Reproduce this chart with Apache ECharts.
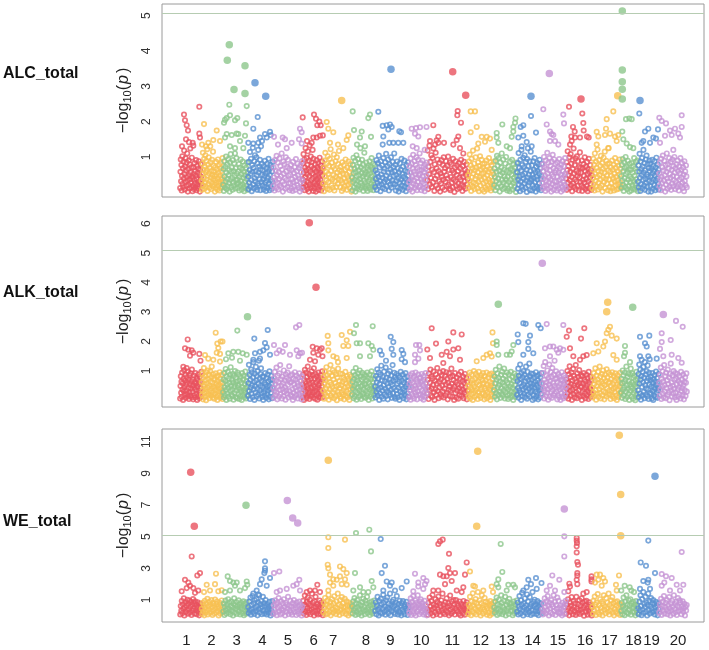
<!DOCTYPE html>
<html><head><meta charset="utf-8">
<script src="https://cdn.jsdelivr.net/npm/echarts@6/dist/echarts.min.js"></script>
<style>html,body{margin:0;padding:0;background:#fff}#c{width:709px;height:650px}</style>
</head><body><div id="c"></div>
<script>
// ---- axis / layout data ----
const chromNames = ['1','2','3','4','5','6','7','8','9','10','11','12','13','14','15','16','17','18','19','20'];
const chromStart = [18,39.5,61,86,111,140.5,161,190,213,247,265,306,332,355,380,404,430,459,476,497];
const chromEnd   = [39.5,61,86,111,140.5,161,190,213,247,265,306,332,355,380,404,430,459,476,497,525];
const labelPos   = [24.4,49.4,74.7,100.5,125.8,151.7,171.2,203.8,228.5,259.3,290.2,318.8,344.8,370.5,395.8,423,447.5,471.5,489.5,516];
const panelNames = ['ALC_total','ALK_total','WE_total'];
const yTicksALC = [1,2,3,4,5];
const yTicksALK = [1,2,3,4,5,6];
const yTicksWE  = [1,3,5,7,9,11];
const threshold = 5.08;
const palette = ['#E8535F','#F8C152','#8DC78C','#5A91D1','#C594D4'];

// ---- ALC_total: background -log10(p) values per chromosome ----
const alcCloud = [
[.12,.58,.93,.31,.77,.05,.46,1.02,.24,.68,.15,.87,.39,1.18,.52,.08,.73,.29,.96,.61,.18,.84,.43,1.1,.34,.02,.66,.21,.9,.49,.11,.79,.37,1.24,.56,.27,.71,.14,.98,.45,.03,.41,.19,.7,.52,.09,.35,.83,.26,.6,.14,.47,.91,.06,.38,.75,.22,.55,.11,.67,.3,.88,.17,.49,.02,.63,.33,.8,.44,.24],
[.33,.07,.81,.52,1.12,.19,.64,.4,.95,.1,.73,.28,1.05,.57,.16,.89,.36,.62,1.22,.04,.47,.78,.23,.99,.54,.13,.69,.31,1.3,.85,.42,.09,.6,.26,.92,.5,.17,1.15,.38,.75,.58,.21,.45,.02,.7,.34,.13,.86,.5,.27,.65,.08,.39,.93,.18,.55,.3,.78,.05,.47,.24,.68,.12,.83,.37,.6,.15,.42,.97,.29],
[.21,.66,.04,.88,.45,.13,.72,.3,1.01,.55,.09,.79,.38,.17,.94,.49,.26,.63,.02,.85,.35,1.08,.58,.14,.7,.41,.07,.91,.28,.6,.19,.82,.47,1.1,.11,.68,.33,.97,.53,.24,.36,.12,.59,.27,.8,.05,.44,.7,.19,.93,.32,.51,.08,.66,.23,.87,.41,.15,.58,.03,.76,.29,.48,.11,.69,.38,.2,.84,.55,.07],
[.44,.09,.86,.27,.63,1.14,.16,.52,.95,.35,.03,.77,.58,1.26,.22,.69,.11,.88,.4,1.05,.31,.6,.14,.99,.48,.07,.82,.25,1.2,.56,.19,.73,.37,.92,.06,.65,1.3,.29,.8,.5,.2,.62,.37,.08,.74,.46,.15,.89,.28,.53,.04,.68,.33,.81,.12,.57,.41,.95,.24,.64,.06,.49,.78,.17,.35,.71,.1,.59,.3,.86],
[.18,.7,.42,.05,.91,.33,.61,.12,1.03,.49,.27,.84,.08,.57,.38,.96,.2,.74,.45,.15,1.1,.64,.3,.02,.87,.53,.23,.79,.4,.1,.99,.59,.35,.72,.14,.92,.47,.26,.67,.06,.5,.25,.78,.11,.63,.37,.04,.86,.29,.55,.16,.71,.43,.07,.94,.32,.6,.2,.81,.47,.13,.68,.39,.02,.75,.28,.57,.1,.88,.34],
[.37,.82,.14,1.08,.55,.24,.93,.06,.7,.43,1.25,.18,.62,.31,.97,.51,.09,.78,1.16,.28,.66,.02,.89,.46,1.33,.21,.59,.12,1.01,.74,.35,.85,.16,.53,1.2,.4,.04,.95,.68,.26,.11,.64,.3,.79,.45,.02,.58,.22,.91,.37,.71,.15,.5,.83,.07,.42,.66,.27,.98,.19,.55,.35,.76,.05,.62,.24,.87,.48,.13,.69],
[.25,.69,.03,.9,.46,1.12,.17,.58,.34,.81,.1,1.02,.52,.29,.75,.07,.95,.4,1.22,.61,.2,.84,.36,.13,.72,.49,1.07,.05,.66,.31,.88,.44,.15,.99,.56,.24,.8,.38,1.17,.63,.47,.14,.72,.33,.6,.04,.85,.26,.53,.1,.77,.39,.18,.64,.93,.3,.5,.07,.7,.43,.21,.87,.35,.58,.12,.8,.27,.67,.02,.45],
[.41,.06,.77,.29,.98,.53,.14,.67,.35,.89,.02,.58,.23,1.05,.46,.11,.72,.32,.94,.18,.62,.48,.08,.83,.38,1.25,.27,.7,.13,.55,.92,.2,.44,.79,.04,.64,.34,1.12,.51,.16,.27,.57,.1,.84,.42,.19,.69,.04,.5,.76,.31,.62,.13,.88,.37,.54,.08,.73,.25,.97,.45,.16,.66,.33,.81,.06,.59,.21,.4,.78],
[.15,.62,.38,.91,.07,.54,.26,.83,.44,1.04,.19,.7,.32,.03,.88,.5,.23,.76,.41,.12,.97,.59,.29,.67,.09,.85,.36,1.09,.47,.17,.74,.31,.93,.55,.05,.8,.4,.21,.65,.99,.13,.57,.34,.86,.25,.71,.46,1.1,.6,.23,.78,.05,.49,.32,.87,.14,.68,.4,.02,.56,.27,.82,.11,.64,.36,.95,.19,.52,.07,.73,.44,.29,.9,.16,.61,.38,.03,.77,.25,.58,.12,.85,.47,.34],
[.29,.74,.08,.55,.96,.37,.16,.81,.45,.02,.67,1.06,.24,.59,.33,.88,.12,.51,.77,.2,.99,.4,.06,.69,.3,.92,.48,.14,.63,1.1,.52,.18,.83,.37,.06,.63,.29,.9,.45,.12,.71,.24,.57,.03,.78,.35,.66,.15,.48,.84],
[.34,1.18,.09,.72,.51,1.32,.22,.86,.41,1.05,.15,.64,.97,.28,1.24,.57,.04,.79,.38,1.12,.19,.68,.47,.93,.11,1.4,.6,.31,.83,.02,.54,.25,.91,.44,.13,.77,.36,.99,.58,.07,.69,.3,.88,.48,.17,.75,.39,1.01,.21,.63,.1,.85,.06,.43,.8,.27,.62,.14,.95,.37,.55,.01,.7,.32,.88,.18,.49,.76,.09,.6,.25,.83,.41,.12,.68,.35,.92,.2,.53,.04,.74,.45,.16,.86,.31,.64,.1,.5,.79,.23,.58,.38],
[.48,.13,.87,.33,1.07,.59,.21,.76,.04,.95,.42,.68,.16,1.18,.53,.27,.81,.09,.62,.38,.99,.24,.7,.46,1.24,.11,.57,.85,.3,.03,.74,.44,1.02,.19,.65,.36,.92,.52,.07,.8,.7,.25,.55,.02,.82,.4,.14,.63,.31,.9,.08,.48,.73,.19,.58,.36,.97,.11,.66,.28,.85,.05,.44,.77,.22,.6,.33,.13,.51,.87],
[.2,.67,.43,.06,.89,.31,.58,1.03,.14,.75,.39,.97,.24,.61,.02,.84,.49,.17,.7,1.1,.35,.55,.09,.93,.28,.64,.45,.12,.81,.37,1.0,.22,.6,.05,.44,.1,.73,.29,.56,.03,.87,.35,.66,.19,.5,.92,.08,.62,.26,.79,.41,.15,.7,.33,.55,.01,.84,.46],
[.57,.1,.83,.36,1.11,.22,.69,.45,.03,.92,.3,.62,1.2,.16,.77,.49,.08,.98,.39,.71,.25,1.05,.54,.13,.86,.33,.64,.01,.94,.42,1.25,.19,.74,.5,.28,.88,.06,.6,1.15,.37,.33,.76,.05,.5,.2,.88,.41,.64,.12,.97,.28,.57,.02,.72,.44,.16,.83,.36,.6,.09,.78,.25,.53,.92,.14,.68,.38,.06,.47,.81],
[.26,.79,.11,.6,.38,1.0,.17,.71,.47,.04,.9,.33,.66,.2,1.12,.53,.09,.84,.42,.28,.97,.62,.14,.75,.36,.02,.87,.51,.23,1.06,.45,.68,.07,.93,.31,.56,.18,.8,.62,.3,.05,.85,.44,.19,.72,.56,.1,.94,.35,.68,.24,.5,.02,.79,.4,.15,.88,.6,.29,.07,.74,.46,.21,.97,.53,.13],
[.39,.85,.07,.63,1.16,.27,.74,.48,.12,.99,.34,.58,1.08,.2,.81,.43,.03,.92,.66,.25,1.24,.53,.15,.77,.37,.96,.09,.6,.31,1.02,.46,.18,.88,.55,.05,.72,.41,1.13,.29,.69,.55,.2,.9,.04,.68,.35,.14,.8,.47,.27,.99,.6,.09,.73,.38,.18,.86,.52,.03,.66,.31,.95,.11,.57,.42,.77,.24,.63,.07,.48],
[.11,.64,.4,.95,.23,.78,.05,1.1,.52,.32,.87,.17,.69,.44,1.21,.08,.6,.27,.91,.49,.14,.75,.36,1.03,.58,.2,.83,.02,.67,.42,.98,.29,.55,1.15,.12,.72,.38,.89,.47,.24,.8,.06,.62,1.25,.36,.82,.15,.58,.03,.71,.47,.26,.9,.12,.64,.4,.78,.05,.53,.31,.97,.19,.69,.44,.08,.85,.34,.6,.22,.76,.1,.5,.93,.28,.66,.16],
[.46,.12,.78,.33,.94,.21,.6,.04,.85,.4,.69,.15,1.0,.52,.27,.73,.09,.57,.89,.36,.18,.65,.02,.81,.44,.28,.63,.05,.39,.83,.2,.55,.11,.74,.31,.97,.47,.08,.68,.24,.86,.37,.14,.59,.9,.03],
[.3,.76,.14,.58,1.09,.41,.04,.87,.23,.66,.49,.97,.11,.72,.35,1.2,.55,.19,.83,.07,.62,.38,.93,.27,1.04,.5,.16,.79,.44,.02,.69,.32,.9,.6,.81,.17,.45,.02,.67,.29,.92,.53,.1,.74,.36,.6,.21,.88,.47,.06,.7,.33,.98,.14,.56,.4,.79,.25,.64,.08],
[.53,.18,.84,.37,.06,.95,.44,.26,.71,1.04,.13,.62,.33,.89,.48,.02,.77,.22,.58,1.1,.39,.1,.8,.3,.67,.97,.15,.52,.41,.86,.07,.63,.24,.93,.46,.17,.74,.35,1.0,.56,.09,.68,.3,.79,.43,.15,.9,.6,.22,.05,.73,.36,.54,.97,.18,.64,.41,.83,.27,.12,.7,.5,.03,.88,.32,.59,.2,.76,.45,.14]
];
// scattered higher SNPs [cumulative position, -log10(p)]
const alcPeaks = [
[22,2.2],[23,2.04],[24.7,1.9],[26,1.75],[24,1.5],[37.3,2.42],[37.3,1.66],[38,1.55],[30.7,1.4],[31.3,1.32],[20,1.3],[27,1.42],
[42,1.93],[54.7,1.75],[51.3,1.48],[46.3,1.4],[40,1.35],[58,1.45],[44,1.3],
[67.3,2.48],[84.7,2.44],[68,2.18],[64.7,2.1],[63,2.05],[62,1.97],[73,2.04],[75.3,2.1],[84,1.95],[64.7,1.65],[69.7,1.62],[74.7,1.66],[76.3,1.65],[63,1.55],[68,1.3],[73,1.25],[81.3,1.25],[78,1.45],[83,1.6],
[95.7,2.13],[91.3,1.8],[98,1.55],[108,1.71],[108.7,1.62],[104.7,1.55],[103,1.65],[96.3,1.4],[91.3,1.38],[86.3,1.4],[100,1.45],
[112,1.57],[120.7,1.55],[123,1.5],[129.7,1.4],[138,1.8],[139.7,1.7],[137,1.5],[139.7,1.38],[124.7,1.25],[116,1.35],
[140.7,2.12],[152,2.2],[154,2.08],[157.3,2.0],[155.3,1.9],[158.7,1.9],[160.8,1.61],[158,1.6],[154.7,1.55],[151.3,1.55],[149.7,1.4],[145,1.45],
[164.7,1.99],[166.3,1.8],[171.3,1.7],[186.3,1.61],[184.7,1.48],[168,1.4],[181.3,1.25],[176,1.35],
[190.7,2.29],[192,1.76],[199.7,1.72],[198,1.55],[206.3,2.1],[208,2.2],[209,1.57],[195,1.35],[203,1.3],
[216.3,2.28],[220.7,1.88],[224.7,1.9],[228,1.92],[229.7,1.85],[226.3,1.78],[237.3,1.73],[239,1.7],[221.3,1.58],[220.7,1.35],[227.3,1.4],[231.3,1.4],[236.3,1.4],[241.3,1.4],
[249.7,1.8],[254,1.82],[258,1.84],[264.5,1.85],[253,1.66],[256.3,1.58],[250.7,1.3],[254.7,1.25],[262.7,1.2],
[271.3,1.9],[295.7,2.3],[295.3,2.18],[299,1.97],[296.3,1.58],[294.7,1.48],[291.3,1.35],[276.3,1.57],[274.7,1.47],[273,1.35],[298,1.25],[301.3,1.1],[282,1.4],[268,1.45],
[308.7,2.29],[313,2.29],[314.7,1.85],[308.7,1.7],[324.7,1.57],[319.7,1.57],[328,1.52],[323,1.43],[316.3,1.38],[329.7,1.2],
[334.7,1.68],[334.7,1.55],[340.3,1.92],[336.3,1.4],[344.7,1.3],[348,1.25],[349.7,1.57],[351.3,1.85],[353,1.97],[353.5,2.09],[351.3,1.72],
[369,2.16],[358.7,1.85],[361.3,1.9],[374,1.69],[356.3,1.55],[361.3,1.6],[364.7,1.42],[359.7,1.3],[369.7,1.3],
[381.3,2.35],[384.7,1.92],[388,1.72],[389.7,1.65],[391.3,1.62],[388,1.45],[393,1.45],[396.3,1.35],[401.3,2.2],[402,1.95],
[407,2.42],[420.3,2.23],[421.3,1.96],[411,1.85],[412.7,1.72],[409.3,1.58],[421.7,1.75],[425,1.58],[426.7,1.55],[418,1.55],[413,1.55],[409.7,1.45],[408,1.35],
[451.3,2.29],[444.7,2.07],[444,1.8],[434.7,1.71],[436.3,1.58],[443,1.62],[448,1.66],[453,1.58],[456.3,1.62],[454.7,1.45],[434.7,1.35],[446.3,1.25],
[464,2.07],[467.3,2.09],[469.7,2.07],[460.3,1.72],[461.3,1.5],[464.7,1.38],[468,1.28],[471.3,1.25],
[477.3,2.23],[486.3,1.8],[483,1.72],[496,1.78],[491.3,1.55],[494,1.52],[481.3,1.45],[479.7,1.4],[488,1.4],
[519.7,2.18],[497.3,2.11],[499.7,2.02],[504,1.95],[519.7,1.85],[513,1.8],[508,1.75],[509.7,1.62],[516.3,1.66],[518,1.55],[503,1.6],[498,1.4],[511.3,1.2]
];
const alcHits = [[67.3,4.18],[65.3,3.74],[83,3.58],[72,2.91],[83,2.8],[93,3.1],[103.7,2.72],[179.7,2.6],[229,3.48],[290.7,3.41],[303.7,2.75],[369,2.72],[387.3,3.36],[419,2.64],[455.7,2.73],[460.3,5.13],[460.3,3.46],[460.3,3.13],[460.3,2.92],[460.3,2.64],[478,2.6]];

// ---- ALK_total ----
const alkCloud = [
[.07,.49,.82,.26,.64,.13,.95,.37,.58,.02,.74,.31,1.03,.45,.19,.68,.88,.09,.53,.34,.79,.22,.61,.98,.14,.42,.71,.05,.86,.28,.56,.17,.92,.4,.66,.11,1.05,.5,.3,.72,.04,.52,.85,.17,.43,.63,.1,.93,.36,.58,.23,.76,.02,.47,.69,.15,.88,.33,.55,.08,.8,.26,.61,.41,.13,.97],
[.62,.19,.91,.35,.04,.77,.48,1.1,.26,.55,.12,.84,.39,.69,.01,.96,.3,.58,.15,1.02,.44,.73,.22,.87,.08,.51,.33,.99,.64,.17,.8,.41,1.15,.27,.6,.1,.89,.47,.2,.75,.06,.43,.7,.24,.92,.36,.57,.13,.81,.49,.02,.66,.31,.85,.18,.53,.4,.96,.09,.74,.28,.62,.45,.14,.88,.35,.05,.6],
[.28,.71,.1,.93,.45,.18,.66,1.07,.36,.02,.81,.54,.24,.97,.42,.13,.75,.59,.06,.88,.32,1.13,.49,.2,.7,.38,.15,.9,.62,.03,.83,.47,.25,1.0,.56,.11,.77,.34,.64,.08,.95,.43,.52,.22,.87,.05,.68,.39,.14,.79,.3,.6,.02,.93,.45,.19,.72,.35,.84,.11,.56,.27,.98,.41,.07,.65,.16,.8,.48,.33],
[.16,.59,1.21,.32,.87,.05,.7,.44,1.05,.23,.96,.52,.11,.78,1.3,.38,.63,.02,.91,.48,.27,1.14,.68,.14,.83,.4,.99,.2,.57,1.35,.07,.74,.34,.9,.5,1.09,.25,.66,.12,.81,.45,.02,.81,.28,.6,.17,.93,.37,.54,.09,.76,.46,.21,.88,.33,.65,.04,.5,.99,.13,.71,.39,.26,.84,.57,.08,.69,.42],
[.42,.09,.76,.31,.97,.55,.18,.67,1.12,.27,.04,.85,.47,.63,.13,.92,.36,1.2,.21,.72,.5,.07,.81,.39,.59,.15,1.02,.29,.68,.45,.03,.88,.34,.77,.24,.95,.53,.1,.7,1.16,.32,.61,.19,.84,.63,.14,.89,.38,.02,.74,.26,.55,.11,.96,.44,.7,.19,.85,.33,.6,.07,.5,.78,.23,.92,.37,.15,.66,.48,.04,.81,.29],
[.55,.12,.88,.37,.02,.7,.46,1.04,.21,.63,.3,.95,.08,.79,.5,.16,1.15,.41,.67,.25,.9,.05,.58,.34,.83,.14,.74,.43,.99,.19,.61,.28,.86,.1,.52,1.09,.27,.74,.46,.06,.9,.33,.61,.18,.81,.42,.03,.69,.24,.95,.52,.13,.77,.37,.58,.09,.86,.3,.65,.2,.48,.99,.11,.72],
[.33,.8,.06,.57,.98,.22,.69,.41,1.13,.14,.86,.5,.28,.75,.03,.93,.38,.62,1.2,.18,.54,.11,.84,.45,1.03,.26,.71,.08,.96,.36,.6,.16,.89,.48,.01,.77,.3,1.08,.52,.2,.66,.42,.91,.13,.08,.52,.27,.9,.63,.19,.78,.35,.04,.7,.44,.97,.15,.58,.31,.83,.1,.49,.74,.24,.66,.02,.87,.39,.57,.17,.81,.46],
[.2,.64,.39,.97,.08,.73,.49,.14,.86,.31,1.1,.56,.03,.79,.26,.68,.43,.92,.11,.6,.35,1.02,.17,.82,.47,.05,.71,.29,.94,.52,.22,.77,.37,.12,.88,.58,.54,.09,.83,.33,.67,.16,.95,.44,.25,.76,.02,.6,.38,.88,.13,.5,.71,.21,.99,.41,.07,.63,.3,.85,.47,.18,.74,.36],
[.47,.1,.83,.29,.62,1.06,.17,.74,.38,.95,.02,.56,.24,.88,.44,1.18,.13,.69,.33,.8,.06,.51,.98,.21,.65,.4,1.12,.15,.77,.31,.58,.04,.91,.46,.27,.72,1.0,.19,.61,.36,.85,.09,.53,1.2,.25,.67,.42,.94,.12,.79,.06,.71,.35,.9,.22,.57,.11,.84,.43,.64,.02,.78,.3,.97,.5,.15,.68,.26,.88,.4,.08,.6,.33,.76,.18,.93,.47,.04,.55,.81,.24,.66,.13,.45],
[.11,.57,.34,.86,.03,.68,.45,.22,.92,.6,.15,.77,.38,.07,.83,.5,.27,.95,.41,.18,.72,.04,.63,.31,.88,.54,.2,.75,.44,.78,.2,.6,.08,.9,.35,.66,.15,.52,.03,.84,.29,.71,.46,.12,.93,.38,.57,.24],
[.24,.7,.46,.05,.91,.35,.6,1.05,.16,.82,.41,.12,.75,.53,.98,.28,.02,.67,.38,.89,.19,.57,1.1,.32,.78,.08,.63,.44,.95,.22,.71,.14,.86,.5,.3,1.0,.1,.65,.4,.83,.18,.55,.96,.26,.74,.04,.6,.36,.92,.48,.15,.8,.33,1.08,.57,.13,.84,.39,.69,.02,.47,.93,.25,.62,.1,.78,.33,.54,.06,.88,.42,.19,.73,.3,.97,.5,.15,.66,.37,.81,.08,.59,.27,.9,.44,.21,.76,.04,.63,.35],
[.5,.14,.79,.31,.95,.07,.62,.43,.21,.88,.36,.69,.02,.56,.25,1.0,.47,.12,.74,.33,.91,.18,.6,.4,.83,.05,.66,.28,.97,.52,.16,.77,.38,.09,.86,.45,.23,.7,.55,.93,.24,.6,.04,.82,.41,.17,.7,.34,.95,.08,.53,.28,.77,.45,.12,.88,.37,.63,.02,.5,.2,.91,.58,.14,.73,.31,.86,.46],
[.36,.81,.13,.58,1.04,.25,.7,.04,.92,.45,.19,.77,.53,1.15,.3,.64,.09,.87,.41,.22,.98,.6,.15,.74,.34,1.08,.5,.07,.84,.27,.67,.43,.95,.18,.6,.05,.38,.89,.21,.72,.47,.1,.97,.3,.56,.16,.8,.42,.02,.66,.26,.91,.51,.12,.74,.35,.84,.2],
[.19,.66,.42,1.08,.09,.84,.35,.59,1.22,.26,.73,.02,.93,.48,.15,.79,.38,1.0,.55,.23,.87,.11,.64,.44,1.15,.31,.76,.06,.97,.51,.2,.69,.4,1.25,.13,.82,.58,.29,.91,.47,.71,.35,.02,.9,.55,.18,.77,.43,.07,.63,.3,.96,.14,.52,.83,.25,.68,.04,.45,.87,.33,.6,.1,.79,.39,.22,.93,.58],
[.58,.2,.93,.41,1.17,.07,.7,.33,1.3,.49,.15,.84,.62,.26,1.02,.38,.03,.77,.54,1.22,.12,.66,.45,.96,.29,.81,.09,1.1,.36,.6,.18,.88,.5,1.35,.24,.73,.43,.99,.3,.75,.04,.63,.18,.9,.46,.11,.81,.37,.57,.02,.7,.25,.96,.42,.14,.67,.53,.08,.85,.34,.6,.2,.78,.45],
[.13,.72,.4,1.0,.25,.61,.06,.89,.47,1.16,.33,.78,.17,.56,.95,.02,.68,.37,1.07,.22,.84,.51,.1,.74,.43,1.2,.29,.63,.08,.92,.53,.19,.8,.35,1.03,.59,.14,.7,.46,.86,.48,.02,.83,.31,.57,.15,.93,.39,.7,.24,.08,.64,.44,.87,.18,.53,.76,.33,.05,.97,.6,.27,.41,.12,.8,.36,.68,.21],
[.44,.1,.77,.28,.93,.55,.16,.68,1.09,.36,.03,.85,.49,.22,.71,.97,.12,.6,.39,1.15,.25,.81,.07,.64,.46,.9,.18,.57,1.02,.31,.75,.04,.52,.87,.27,.66,.14,1.06,.41,.79,.21,.59,.95,.34,.62,.2,.88,.05,.5,.73,.33,.96,.14,.57,.4,.82,.08,.67,.29,.92,.45,.17,.75,.02,.53,.86,.36,.11,.69,.48,.24,.94,.58,.3],
[.27,.74,.09,.58,1.02,.36,.85,.17,.63,.44,.95,.05,.7,.3,1.15,.51,.12,.8,.39,.92,.22,.66,.02,.55,.88,.33,1.08,.47,.14,.61,.92,.41,.06,.77,.25,.53,.84,.33,.01,.69,.47,.97,.2,.58,.1,.73],
[.35,.9,.12,1.22,.57,.24,1.05,.71,.03,.83,1.38,.46,.17,.97,.62,1.14,.29,.78,.08,1.3,.52,.2,.88,.41,1.0,.66,.14,1.19,.37,.75,.05,.94,.55,1.4,.26,.69,.8,.22,.48,.07,.93,.6,.31,.02,.73,.45,.17,.86,.39,.65,.12,.98,.53,.27,.76,.09,.58,.34,.9,.43],
[.6,.16,.87,.38,1.12,.05,.73,.47,.99,.23,.65,.11,1.2,.52,.3,.82,.08,.94,.42,.69,.19,1.05,.56,.27,.78,.01,.9,.45,1.25,.34,.61,.14,.85,.5,.24,1.0,.4,.7,.1,.93,.28,.74,.02,.55,.9,.37,.13,.66,.46,.83,.2,.58,.07,.97,.32,.71,.42,.17,.88,.52,.04,.63,.35,.79,.15,.6,.92,.3]
];
const alkPeaks = [
[25.7,2.07],[23,1.77],[26.3,1.72],[29.7,1.7],[31.3,1.62],[28,1.52],[37.3,1.58],[38.5,1.35],[21.3,1.14],[24.7,1.1],
[53.7,2.3],[55.3,1.93],[58.7,2.0],[60.5,2.0],[56.3,1.78],[54.7,1.62],[58,1.58],[43,1.54],[46.3,1.42],[51.3,1.38],[58,1.32],
[75.3,2.37],[66.3,1.6],[71.3,1.65],[76.3,1.65],[80.7,1.6],[84.7,1.55],[78,1.35],[70,1.45],[64,1.4],
[105.7,2.39],[92.3,2.1],[103,1.95],[104.7,1.8],[93,1.6],[98,1.65],[101.3,1.7],[108,1.55],[98,1.42],[91.3,1.38],
[112,1.88],[123,1.88],[117.3,1.7],[120.7,1.65],[114.7,1.6],[128,1.55],[134,2.48],[137.3,2.56],[134.7,1.7],[138,1.6],[136.3,1.5],[140,1.62],
[150.7,1.82],[154.7,1.77],[158,1.72],[159.7,1.77],[151.3,1.62],[156.3,1.55],[148,1.38],[153,1.33],[160.5,1.5],
[165.7,2.19],[179.7,2.22],[188,2.33],[166.3,1.94],[166.3,1.7],[184.7,2.04],[181.3,1.85],[186.3,1.85],[171.3,1.5],[174.7,1.45],[184.7,1.44],[176,1.3],
[194,2.56],[192,2.28],[210.7,2.52],[198,1.94],[194.7,1.94],[206.3,1.94],[209.7,1.85],[211.3,1.72],[208,1.5],[198,1.5],
[228.7,2.16],[231.3,1.98],[218,1.69],[219.7,1.55],[229.7,1.75],[231.3,1.55],[239.7,1.71],[241.3,1.58],[239.7,1.4],[243,1.3],[224,1.35],
[254,1.88],[257.3,1.88],[258,1.7],[253,1.55],[253,1.3],[256.3,1.42],
[269.7,2.45],[291.3,2.31],[299.7,2.24],[286.3,2.0],[274,1.93],[265.3,1.73],[268,1.44],[279.7,1.55],[284.7,1.65],[291.3,1.73],[296.3,1.77],[288,1.5],[281.3,1.27],[298,1.38],
[330.5,2.31],[331,1.94],[324.7,1.55],[328,1.6],[329.7,1.49],[321.3,1.44],[314.7,1.33],
[334.7,2.0],[334.7,1.88],[351.3,1.88],[349.7,1.66],[348,1.55],[344.7,1.55],[336.3,1.55],
[361.3,2.62],[363.7,2.6],[376.3,2.56],[378.7,2.45],[355.7,2.24],[368,2.2],[356.3,1.98],[366.3,1.98],[366.3,1.75],[361.3,1.55],[371.3,1.6],
[384.7,2.59],[401.3,2.56],[388,1.83],[383,1.77],[391.3,1.83],[394.7,1.72],[398,1.77],[401.3,1.72],[396.3,1.62],[388,1.5],
[407,2.37],[422.3,2.45],[404.7,2.16],[419,2.1],[408,1.77],[411.3,1.5],[421.3,1.5],[424.7,1.54],[418,1.38],
[448,2.5],[446.3,2.4],[444.7,2.28],[449.7,2.2],[454.7,2.1],[443,2.0],[441.3,1.83],[434.7,1.94],[431.3,1.6],[436.3,1.66],[451.3,1.54],[454.7,1.38],
[463,1.85],[463,1.62],[462,1.5],[468,1.3],
[478,2.16],[487.3,2.2],[483,1.94],[484.7,1.83],[478,1.5],[486.3,1.5],[494.7,1.42],
[514,2.7],[520.7,2.5],[499.7,2.28],[508.7,2.05],[499.7,1.98],[498,1.75],[501.3,1.5],[509.7,1.55],[516.3,1.44],[519.7,1.28]
];
const alkHits = [[147.3,6.03],[154,3.84],[85.5,2.84],[336.3,3.26],[445.7,3.33],[444.7,3.01],[470.7,3.16],[380.3,4.65],[501.3,2.92]];

// ---- WE_total ----
const weCloud = [
[.08,.62,.31,.94,.17,.73,.45,1.1,.02,.53,.85,.24,.66,.38,1.02,.13,.77,.41,.97,.2,.57,.88,.05,.69,.33,1.06,.47,.8,.15,.91,.35,.72,.1,.5,.86,.27,.6,.03,.42,.78,.18,.55],
[.44,.12,.83,.29,.67,.03,.95,.51,.21,.76,.36,1.08,.09,.6,.4,.88,.18,.71,.26,.99,.55,.06,.8,.34,.64,.15,1.03,.48,.23,.74,.9,.3,.58,.02,.45,.82,.14,.66,.37,.97,.2,.52],
[.27,.78,.05,.59,.96,.35,.14,.7,.48,1.05,.22,.84,.4,.1,.63,.9,.31,.53,.02,.76,1.1,.19,.67,.44,.87,.12,.57,.37,.98,.25,.72,.08,.5,.82,.63,.16,.43,.92,.04,.77,.3,.55,.13,.86,.47,.21],
[.55,.18,.9,.36,1.15,.07,.68,.43,1.25,.24,.79,.12,.97,.5,.3,1.06,.62,.03,.85,.4,1.3,.2,.73,.47,.94,.1,.58,1.2,.33,.81,.15,.66,1.0,.26,.09,.74,.38,.57,.2,.88,.45,.02,.64,.32,.93,.15],
[.13,.66,.39,.98,.21,.74,.04,.86,.5,1.12,.29,.6,.09,.92,.43,.17,.78,.35,1.05,.55,.02,.83,.26,.7,.46,1.2,.11,.63,.32,.95,.19,.58,.07,.8,.41,1.0,.24,.69,.52,.05,.84,.27,.62,.14,.9,.36,.71,.45,.02,.57],
[.38,.95,.14,.7,1.28,.27,.6,.05,.88,.47,1.15,.2,.77,.34,1.02,.1,.65,.42,1.4,.22,.83,.53,.02,.92,.3,1.2,.57,.16,.74,.32,.08,.61,.44,.97,.13,.52,.84,.26,.68,.04],
[.22,.82,.49,1.13,.08,.7,.36,.96,.15,1.32,.58,.27,.88,.03,.65,1.05,.41,.19,.77,1.24,.32,.54,.11,.9,.45,1.4,.25,.72,.06,.99,.37,.62,1.18,.17,.8,.5,.29,1.08,.55,.12,.91,.4,.67,.02,.84,.33,.6,.15,.76,.47],
[.6,.15,.92,.33,1.12,.47,.06,.8,.25,1.0,.55,.12,.72,.38,1.3,.2,.66,.02,.87,.43,1.07,.29,.58,.1,.95,.35,.76,1.2,.18,.51,.38,.83,.05,.66,.23,.9,.48,.14,.72,.3,.97,.57],
[.31,.86,.1,.64,1.2,.4,.02,.93,.53,.2,1.08,.73,.14,.45,1.33,.82,.26,.6,.07,.98,.36,1.15,.5,.17,.77,.43,1.4,.04,.69,.3,.9,.57,1.02,.22,.66,.12,.84,.38,1.25,.48,.09,.75,.28,.95,.18,.63,.03,.8,.4,.93,.25,.58,.1,.72,.46,.88,.33,.05,.65,.52],
[.19,.75,.42,1.1,.05,.6,.88,.3,1.25,.14,.67,.46,.97,.02,.55,.82,.26,1.3,.38,.7,.1,.92,.5,1.04,.22,.63,.8,.33,.58,.09,.44,.95,.18,.68,.35,.03],
[.45,.07,.83,.3,1.16,.59,.16,.94,.38,1.32,.02,.71,.5,.23,1.05,.65,.11,.88,.42,1.22,.28,.76,.05,.6,.97,.35,1.4,.18,.68,.47,.1,.86,.32,1.1,.55,.2,.8,.03,.63,1.28,.4,.14,.91,.53,.25,1.0,.72,.08,.44,.99,.34,.78,.27,.64,.12,.9,.48,.02,.75,.36,.58,.17,.94,.43,.07,.7,.3,.85,.52,.22],
[.12,.7,.36,1.2,.55,.04,.92,.28,1.42,.63,.18,.85,.46,1.06,.09,.77,.33,1.5,.58,.22,.98,.41,.02,.8,1.3,.5,.15,.68,.38,1.13,.25,.88,.6,.07,.47,.82,.2,.66,.02,.93,.4,.74,.13,.57,.31,.85],
[.52,.2,.9,.38,1.15,.06,.72,.44,1.02,.15,.63,.3,1.3,.83,.1,.56,.24,.95,.4,1.2,.02,.68,.34,.88,.49,.12,1.08,.77,.28,.6,.78,.33,.04,.58,.9,.17,.45,.7,.25,.97],
[.26,.84,.08,.6,1.25,.43,.15,.97,.7,1.45,.33,.02,.79,.52,1.1,.2,.66,.38,1.35,.1,.9,.47,.24,1.18,.58,.05,.75,.36,1.5,.13,.88,.63,1.02,.3,.7,.12,.5,.93,.32,.04,.62,.83,.22,.45,.76,.16],
[.4,.08,.78,.27,1.1,.55,.16,.92,.35,1.25,.64,.02,.84,.46,.2,1.0,.72,.12,.58,1.3,.3,.88,.05,.68,.43,1.15,.22,.95,.5,.14,.2,.66,.44,.03,.83,.3,.57,.12,.74,.95],
[.15,.7,.33,1.05,.5,.03,.86,.24,.62,1.18,.41,.1,.93,.56,.28,.79,.06,1.2,.45,.18,.74,.35,.98,.12,.64,.4,1.1,.21,.82,.53,.01,.9,.67,.27,.95,.44,.07,.58,.33,.85,.15,.72,.5,.02],
[.58,.13,.95,.36,1.22,.72,.05,.84,.44,1.38,.2,.66,.1,1.05,.5,.28,.9,.02,.76,1.3,.38,.6,.16,1.12,.47,.83,.25,1.4,.08,.69,.33,.98,.55,1.18,.19,.8,.03,.45,.87,.25,.63,.92,.14,.52,.35,.78,.06,.69],
[.3,.82,.1,.6,1.15,.42,.04,.9,.52,1.3,.22,.7,.14,.98,.36,.64,1.05,.07,.78,.46,.26,.88,.55,.2,.72,.03,.93,.4,.62,.16],
[.48,.1,.9,.33,1.3,.62,.04,1.05,.4,1.5,.18,.75,.55,1.2,.26,.84,.02,.68,1.4,.36,.95,.14,.6,1.12,.44,.22,.8,1.0,.27,.73,.09,.55,.88,.3,.62,.03,.8,.42],
[.2,.72,.45,1.08,.06,.62,.9,.32,1.25,.15,.55,.83,.38,1.0,.1,.67,.27,1.18,.48,.02,.8,.35,.95,.58,.13,1.3,.42,.74,.22,.88,.05,.64,1.12,.3,.52,.98,.84,.37,.1,.6,.92,.25,.48,.76,.02,.57,.33,.68]
];
const wePeaks = [
[29.7,3.75],[38,2.7],[35.3,2.55],[23,2.28],[26.3,2.1],[28,1.9],[24.7,1.75],[19.7,1.55],[31.3,1.75],[36.3,1.6],[33,1.45],
[54,2.66],[44.7,1.96],[53,2.0],[48,1.6],[42,1.5],[56.3,1.55],[59.7,1.62],
[65.7,2.49],[68,2.2],[71.3,2.1],[74.7,2.1],[73,1.9],[68,1.6],[63,1.5],[84.7,2.17],[85.3,1.96],[83,1.75],[78,1.6],
[103,3.44],[103,3.0],[103,2.85],[102.3,2.7],[99.7,2.3],[108,2.39],[98,2.0],[104.7,1.9],[94.7,1.6],[91.3,1.4],[96.3,1.35],
[117.3,2.8],[112,2.7],[137.3,2.28],[134.7,2.0],[131.3,1.9],[124.7,1.7],[118,1.6],[114.7,1.5],[138,1.6],
[155.3,1.96],[148,1.6],[153,1.6],[158,1.5],[144.7,1.5],
[166.3,4.96],[166.3,4.28],[183,4.81],[165.7,3.23],[166.3,3.0],[178,3.12],[181.3,2.95],[178,2.49],[174.7,2.28],[184.7,2.7],[183,2.3],[171.3,2.3],[168,2.6],[168,2.1],[171.3,1.9],[179.7,2.0],[166.3,1.6],[184.7,1.96],
[194,5.23],[207.3,5.44],[209,4.07],[193,2.7],[209.7,2.2],[211.3,1.8],[198,1.8],[191.3,1.6],[201.3,1.5],[206.3,1.5],
[218.7,4.85],[223,3.16],[219.7,2.7],[224.7,2.17],[229.7,2.1],[228,1.9],[239.7,1.75],[244.7,2.17],[233,1.6],[221.3,1.6],
[253,2.66],[256.3,2.1],[261.3,2.39],[264.5,2.2],[263,2.0],[261.3,1.7],[256.3,1.85],[251.3,1.55],
[276.3,4.54],[278,4.7],[280.7,4.81],[287,3.92],[278,2.6],[281.3,2.5],[286.3,3.02],[288,2.7],[284.7,2.5],[293,2.7],[304.7,3.37],[303,2.6],[283,2.0],[271.3,1.6],[276.3,1.6],[294.7,1.6],[299.7,1.5],[301.3,1.8],[289.7,2.2],
[308,2.8],[311.3,1.9],[313,1.85],[321.3,1.6],[329.7,1.85],[331,1.5],
[338.7,4.54],[340.3,2.77],[336.3,2.3],[334.7,2.0],[336.3,1.8],[346.3,1.96],[351.3,1.96],[353,1.8],[344.7,1.6],
[366.3,2.28],[374,2.39],[369,2.0],[379.5,2.07],[361.3,1.6],[364.7,1.8],[374.7,1.7],
[402.3,5.02],[402.3,3.75],[390.3,2.55],[397.3,2.28],[388,1.9],[384.7,1.6],[393,1.6],[402.3,1.5],
[414.7,4.92],[414.7,4.75],[415,4.6],[414.7,4.39],[414.7,4.0],[415.3,3.4],[416,3.23],[415.3,2.7],[415.3,2.55],[414.7,2.28],[415.3,2.0],[407.3,2.03],[408,1.85],[406.3,1.55],[429.5,2.49],[429.5,2.3],[429.5,2.17],[424.7,1.5],[421.3,1.4],
[434.7,2.6],[438,2.6],[441.3,2.39],[443,2.17],[436.3,2.28],[433,2.1],[439.7,1.9],[454,1.96],[454.7,1.6],[457,2.55],
[462.7,1.9],[467.7,1.8],[469.3,1.6],[459.3,1.6],[472,1.5],
[486.3,4.75],[478.7,3.37],[484,3.16],[493,2.7],[481.3,2.2],[486.3,2.28],[485.7,2.1],[478,1.7],[488,1.7],
[519.7,4.03],[499.7,2.64],[504,2.5],[509.7,2.39],[502.3,2.1],[499.7,1.9],[514.7,1.96],[521.3,1.96],[518,1.6],[508,1.6]
];
const weHits = [[28.7,9.07],[32.3,5.65],[84,6.98],[125.3,7.28],[130.7,6.18],[135.7,5.87],[166.3,9.83],[315.7,10.4],[314.7,5.65],[402.3,6.75],[457.3,11.41],[458.7,7.66],[458.7,5.06],[493,8.82]];

// ---- build chart ----
const FONT = '"Liberation Sans", Arial, sans-serif';
function chromOf(x){ for (let c = 0; c < 20; c++) if (x < chromEnd[c]) return c; return 19; }

const panels = [
  {cloud: alcCloud, peaks: alcPeaks, hits: alcHits, ticks: yTicksALC, min: -0.133, max: 5.33, top: 4, height: 193},
  {cloud: alkCloud, peaks: alkPeaks, hits: alkHits, ticks: yTicksALK, min: -0.22, max: 6.256, top: 216, height: 191},
  {cloud: weCloud, peaks: wePeaks, hits: weHits, ticks: yTicksWE, min: -0.39, max: 11.8, top: 429, height: 193}
];

const grids = [], xAxes = [], yAxes = [], series = [], graphics = [];
const titleY = [75, 294, 522.5];

panels.forEach((p, idx) => {
  grids.push({left: 162, top: p.top, width: 542, height: p.height, show: true, borderColor: '#9a9a9a', borderWidth: 1, backgroundColor: '#fff'});
  const last = idx === panels.length - 1;
  xAxes.push({
    type: 'value', gridIndex: idx, min: 0, max: 542,
    axisLine: {show: false}, axisTick: {show: false}, splitLine: {show: false},
    axisLabel: last ? {
      show: true, customValues: labelPos, margin: 11, fontSize: 15, color: '#222', fontFamily: FONT,
      formatter: v => { let best = 0; labelPos.forEach((l, i) => { if (Math.abs(l - v) < Math.abs(labelPos[best] - v)) best = i; }); return chromNames[best]; }
    } : {show: false}
  });
  yAxes.push({
    type: 'value', gridIndex: idx, min: p.min, max: p.max,
    axisLine: {show: false}, axisTick: {show: false}, splitLine: {show: false},
    axisLabel: {show: true, customValues: p.ticks, rotate: 90, margin: 9, fontSize: 12, color: '#333', fontFamily: FONT},
    name: '{m|\u2212log}{s|10}{m|(}{i|p}{m|)}',
    nameLocation: 'middle', nameRotate: 90, nameGap: 19,
    nameTextStyle: {
      rich: {
        m: {fontSize: 16, fontFamily: FONT, color: '#222', lineHeight: 20},
        s: {fontSize: 11, fontFamily: FONT, color: '#222', lineHeight: 12, verticalAlign: 'bottom'},
        i: {fontSize: 16, fontFamily: FONT, fontStyle: 'italic', color: '#222', lineHeight: 20, padding: [0, 2, 0, 1]}
      }
    }
  });

  const groups = [[], [], [], [], []];
  p.cloud.forEach((vals, c) => {
    const w = chromEnd[c] - chromStart[c];
    vals.forEach((v, i) => groups[c % 5].push([chromStart[c] + w * (i + 0.5) / vals.length, v]));
  });
  p.peaks.forEach(pt => groups[chromOf(pt[0]) % 5].push(pt));
  groups.forEach((g, k) => series.push({
    type: 'scatter', xAxisIndex: idx, yAxisIndex: idx, data: g, symbol: 'circle', symbolSize: 4.4,
    itemStyle: {color: 'rgba(255,255,255,0)', borderColor: palette[k], borderWidth: 1.7},
    silent: true, progressive: 0, z: 2
  }));
  series.push({
    type: 'scatter', xAxisIndex: idx, yAxisIndex: idx, symbol: 'circle', symbolSize: 7.5, silent: true, z: 3,
    data: p.hits.map(h => ({value: h, itemStyle: {color: palette[chromOf(h[0]) % 5]}})),
    markLine: {silent: true, symbol: ['none', 'none'], label: {show: false},
      lineStyle: {color: '#b6ccb2', width: 1.2, type: 'solid'}, data: [{yAxis: threshold}]}
  });
  graphics.push({type: 'text', left: 3, top: titleY[idx] - 9,
    style: {text: panelNames[idx], font: 'bold 16px ' + FONT, fill: '#111'}});
});

const chart = echarts.init(document.getElementById('c'), null, {renderer: 'canvas'});
chart.setOption({
  animation: false,
  backgroundColor: '#fff',
  grid: grids, xAxis: xAxes, yAxis: yAxes, series: series, graphic: graphics
});
</script></body></html>
